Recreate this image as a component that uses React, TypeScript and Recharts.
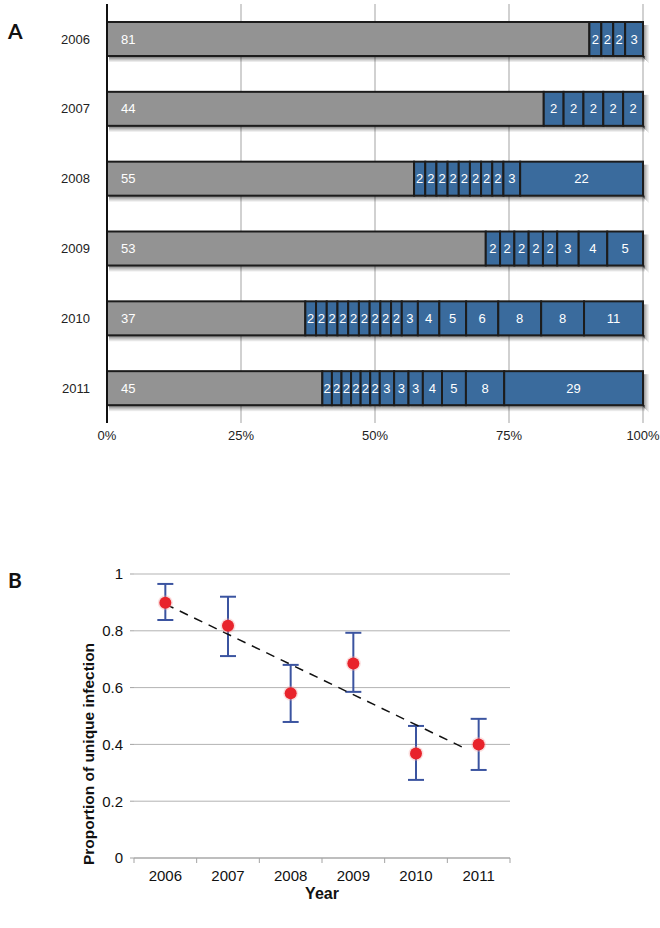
import React from 'react';
import {
  BarChart, Bar, XAxis, YAxis, CartesianGrid, LabelList,
  ComposedChart, Scatter, ErrorBar, Label,
} from 'recharts';

// ---------- Panel A data ----------
const years = ['2006', '2007', '2008', '2009', '2010', '2011'];
const uniqueCounts = [81, 44, 55, 53, 37, 45];
const clusters2006 = [2, 2, 2, 3];
const clusters2007 = [2, 2, 2, 2, 2];
const clusters2008 = [2, 2, 2, 2, 2, 2, 2, 2, 3, 22];
const clusters2009 = [2, 2, 2, 2, 2, 3, 4, 5];
const clusters2010 = [2, 2, 2, 2, 2, 2, 2, 2, 2, 3, 4, 5, 6, 8, 8, 11];
const clusters2011 = [2, 2, 2, 2, 2, 2, 3, 3, 3, 4, 5, 8, 29];
const percentTicks = [0, 0.25, 0.5, 0.75, 1];

// ---------- Panel B data ----------
const proportions = [0.899, 0.818, 0.58, 0.685, 0.368, 0.4];
const ciLower = [0.838, 0.711, 0.479, 0.585, 0.275, 0.31];
const ciUpper = [0.965, 0.92, 0.68, 0.793, 0.465, 0.49];
const trendX = [0, 4.8];
const trendY = [0.894, 0.384];
const yTicksB = [0, 0.2, 0.4, 0.6, 0.8, 1];
const xTicksB = [-0.5, 0, 0.5, 1, 1.5, 2, 2.5, 3, 3.5, 4, 4.5, 5, 5.5];

const allClusters = [clusters2006, clusters2007, clusters2008, clusters2009, clusters2010, clusters2011];
const maxSegs = Math.max(...allClusters.map((c) => c.length)) + 1;

const rowsA = years.map((y, i) => {
  const r: Record<string, any> = { year: y, s0: uniqueCounts[i] };
  allClusters[i].forEach((v, j) => {
    r['s' + (j + 1)] = v;
  });
  return r;
});

const pointRows = years.map((_, i) => ({
  x: i,
  y: proportions[i],
  err: [proportions[i] - ciLower[i], ciUpper[i] - proportions[i]],
}));
const trendRows = trendX.map((x, i) => ({ x, y: trendY[i] }));

const GREY = '#939393';
const BLUE = '#3a6b9d';
const FONT = '"Liberation Sans", Arial, sans-serif';
const SHADOW = [
  { d: 1, o: 0.55 },
  { d: 2, o: 0.45 },
  { d: 3, o: 0.34 },
  { d: 4, o: 0.24 },
  { d: 5, o: 0.15 },
  { d: 6, o: 0.08 },
];

const makeShape = (isLast: (p: any) => boolean) => (props: any) => {
  const { x, y, width, height, fill } = props;
  if (!width || width <= 0) return <g />;
  const right = isLast(props);
  return (
    <g>
      {SHADOW.map((s) => (
        <rect key={'b' + s.d} x={x + 2} y={y + height + s.d - 1} width={width} height={1} fill="#000" fillOpacity={s.o} />
      ))}
      {right &&
        SHADOW.map((s) => (
          <rect key={'r' + s.d} x={x + width + s.d - 1} y={y + 3} width={1} height={height + s.d - 2} fill="#000" fillOpacity={s.o * 0.8} />
        ))}
      <rect x={x} y={y} width={width} height={height} fill={fill} stroke="#1c1c1c" strokeWidth={2} />
    </g>
  );
};

const Dot = (props: any) => {
  const { cx, cy } = props;
  if (cx == null || cy == null) return <g />;
  return (
    <g>
      <circle cx={cx} cy={cy} r={7.5} fill="#f4a0a0" opacity={0.35} />
      <circle cx={cx} cy={cy} r={6} fill="#e8232b" />
    </g>
  );
};

const NoDot = () => <g />;

const BTick = (props: any) => {
  const { x, y, payload } = props;
  const v = payload.value;
  if (Number.isInteger(v)) {
    return (
      <text x={x} y={y + 23} textAnchor="middle" fontSize={15} fill="#111" fontFamily={FONT}>
        {years[v]}
      </text>
    );
  }
  return <line x1={x} x2={x} y1={y} y2={y + 5} stroke="#a3a3a3" strokeWidth={1} />;
};

const YLabelB = () => (
  <text
    x={88}
    y={214}
    transform="rotate(-90 88 214)"
    textAnchor="middle"
    dominantBaseline="central"
    fontSize={15.5}
    fontWeight="bold"
    fill="#111"
    fontFamily={FONT}
  >
    Proportion of unique infection
  </text>
);

export default function App() {
  const segKeys = Array.from({ length: maxSegs }, (_, i) => 's' + i);
  return (
    <div
      style={{
        position: 'absolute',
        left: 0,
        top: 0,
        width: 660,
        height: 928,
        background: '#fff',
        fontFamily: FONT,
        overflow: 'hidden',
      }}
    >
      <div style={{ position: 'absolute', left: 8, top: 20, fontSize: 21, lineHeight: '22px', fontWeight: 'bold', fontFamily: 'Lato, "Open Sans", sans-serif', color: '#111' }}>
        A
      </div>
      <div style={{ position: 'absolute', left: 8, top: 569, fontSize: 21, lineHeight: '22px', fontWeight: 'bold', fontFamily: 'Lato, "Open Sans", sans-serif', color: '#111' }}>
        B
      </div>

      <div style={{ position: 'absolute', left: 0, top: 0 }}>
        <BarChart
          width={660}
          height={460}
          data={rowsA}
          layout="vertical"
          stackOffset="expand"
          barSize={34}
          margin={{ top: 4, right: 17, bottom: 7, left: 47 }}
        >
          <CartesianGrid horizontal={false} stroke="#a3a3a3" />
          <XAxis
            type="number"
            domain={[0, 1]}
            ticks={percentTicks}
            interval={0}
            tickFormatter={(v: number) => `${Math.round(v * 100)}%`}
            axisLine={false}
            tickLine={false}
            tickSize={0}
            tickMargin={8}
            height={30}
            tick={{ fontSize: 13, fill: '#222', fontFamily: FONT }}
          />
          <YAxis
            type="category"
            dataKey="year"
            width={60}
            axisLine={{ stroke: '#111', strokeWidth: 2 }}
            tickLine={false}
            tickSize={0}
            tickMargin={17}
            tick={{ fontSize: 13, fill: '#222', fontFamily: FONT }}
          />
          {segKeys.map((k, i) => (
            <Bar
              key={k}
              dataKey={k}
              stackId="a"
              fill={i === 0 ? GREY : BLUE}
              isAnimationActive={false}
              shape={makeShape((p: any) => i === allClusters[p.index ?? 0].length)}
            >
              <LabelList
                dataKey={k}
                position={i === 0 ? 'insideLeft' : 'center'}
                offset={i === 0 ? 14 : 0}
                fill="#fff"
                fontSize={13}
                fontFamily={FONT}
              />
            </Bar>
          ))}
        </BarChart>
      </div>

      <div style={{ position: 'absolute', left: 0, top: 540 }}>
        <ComposedChart
          width={660}
          height={388}
          margin={{ top: 34, right: 150, bottom: 30, left: 74 }}
        >
          <CartesianGrid vertical={false} stroke="#b3b3b3" />
          <XAxis
            dataKey="x"
            type="number"
            domain={[-0.5, 5.5]}
            ticks={xTicksB}
            interval={0}
            tick={<BTick />}
            tickLine={false}
            tickSize={0}
            tickMargin={0}
            axisLine={{ stroke: '#a3a3a3' }}
            height={40}
          >
            <Label value="Year" position="bottom" offset={-10} fontSize={16} fontWeight="bold" fill="#111" fontFamily={FONT} />
          </XAxis>
          <YAxis
            dataKey="y"
            type="number"
            domain={[0, 1]}
            ticks={yTicksB}
            interval={0}
            tickFormatter={(v: number) => String(v)}
            axisLine={false}
            tickLine={{ stroke: '#a3a3a3' }}
            tickSize={4}
            tickMargin={7}
            width={60}
            tick={{ fontSize: 15, fill: '#111', fontFamily: FONT }}
          >
            <Label content={YLabelB} />
          </YAxis>
          <Scatter
            data={trendRows}
            dataKey="y"
            line={{ stroke: '#111', strokeWidth: 1.5, strokeDasharray: '9 7' }}
            shape={NoDot}
            isAnimationActive={false}
            legendType="none"
          />
          <Scatter data={pointRows} dataKey="y" fill="#e8232b" shape={Dot} isAnimationActive={false}>
            <ErrorBar dataKey="err" direction="y" width={8} stroke="#3b54a0" strokeWidth={2} />
          </Scatter>
        </ComposedChart>
      </div>
    </div>
  );
}
